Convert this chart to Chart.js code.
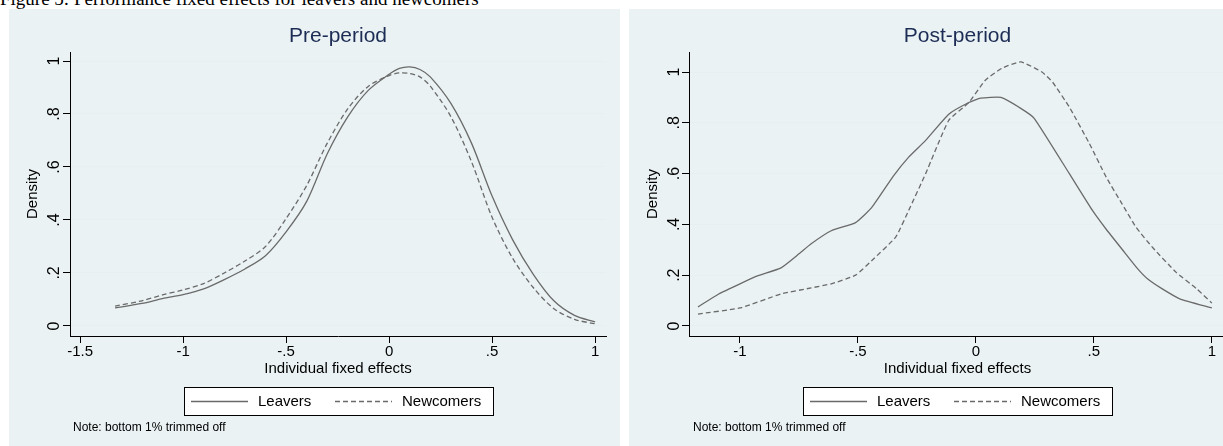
<!DOCTYPE html>
<html>
<head>
<meta charset="utf-8">
<script src="https://cdn.jsdelivr.net/npm/chart.js@4.4.1/dist/chart.umd.min.js"></script>
<style>
  html, body { margin: 0; padding: 0; background: #fff; }
  body { width: 1223px; height: 446px; overflow: hidden; position: relative; }
  .caption { position: absolute; left: 0; top: -11px; white-space: nowrap;
    font: 19px/20px "Liberation Serif", "Times New Roman", serif; color: #000; }
  .panel { position: absolute; top: 9px; width: 611px; height: 437px; background: #eaf2f3; }
  .panel canvas { display: block; }
</style>
</head>
<body>
<div class="caption">Figure 5: Performance fixed effects for leavers and newcomers</div>
<div class="panel" style="left:9px"><canvas id="pre" width="611" height="437"></canvas></div>
<div class="panel" style="left:629px"><canvas id="post" width="611" height="437"></canvas></div>
<script>
// pre-period densities
const preX = [-1.33, -1.2, -1.1, -1.0, -0.9, -0.8, -0.7, -0.6, -0.5, -0.4, -0.3, -0.2, -0.1,
  0.0, 0.05, 0.1, 0.15, 0.2, 0.3, 0.4, 0.5, 0.6, 0.7, 0.8, 0.9, 1.0];
const preLeavers = [0.068, 0.085, 0.103, 0.118, 0.14, 0.175, 0.215, 0.265, 0.355, 0.47, 0.65, 0.79, 0.89,
  0.95, 0.972, 0.978, 0.968, 0.94, 0.84, 0.69, 0.49, 0.325, 0.195, 0.095, 0.04, 0.015];
const preNewcomers = [0.075, 0.095, 0.117, 0.136, 0.16, 0.2, 0.245, 0.3, 0.405, 0.53, 0.69, 0.82, 0.905,
  0.945, 0.955, 0.953, 0.94, 0.905, 0.79, 0.62, 0.41, 0.255, 0.145, 0.065, 0.025, 0.008];

// post-period densities
const postLeaversX = [-1.178, -1.09, -1.0, -0.923, -0.826, -0.75, -0.698, -0.613, -0.51, -0.442, -0.35,
  -0.285, -0.213, -0.115, -0.03, 0.02, 0.106, 0.19, 0.247, 0.396, 0.494, 0.553, 0.63, 0.686, 0.727,
  0.79, 0.864, 1.0];
const postLeavers = [0.075, 0.126, 0.166, 0.198, 0.229, 0.284, 0.324, 0.375, 0.407, 0.466, 0.59,
  0.665, 0.731, 0.834, 0.88, 0.897, 0.9, 0.857, 0.818, 0.6, 0.455, 0.38, 0.29, 0.225, 0.186,
  0.146, 0.107, 0.071];
const postNewcomersX = [-1.178, -1.0, -0.826, -0.698, -0.613, -0.51, -0.442, -0.34, -0.285, -0.213,
  -0.115, -0.03, 0.04, 0.11, 0.19, 0.28, 0.325, 0.396, 0.48, 0.553, 0.62, 0.68, 0.75, 0.85, 0.936, 1.0];
const postNewcomers = [0.047, 0.071, 0.126, 0.15, 0.166, 0.2, 0.257, 0.35, 0.455, 0.6,
  0.81, 0.88, 0.968, 1.015, 1.04, 1.0, 0.96, 0.862, 0.72, 0.585, 0.48, 0.387, 0.308, 0.21, 0.146, 0.09];

const preXTicks = [-1.5, -1, -0.5, 0, 0.5, 1];
const postXTicks = [-1, -0.5, 0, 0.5, 1];
const yTicks = [0, 0.2, 0.4, 0.6, 0.8, 1];

const lineColor = "#6a6a6a";
const fmt = (v) => (v === 0 ? "0" : String(v).replace("0.", "."));
const pts = (xs, ys) => xs.map((x, i) => ({ x: x, y: ys[i] }));

Chart.defaults.font.family = '"Liberation Sans", Arial, sans-serif';
Chart.defaults.color = "#000";

const decor = {
  id: "decor",
  afterDraw(chart, args, opts) {
    const { ctx, chartArea: a, scales } = chart;
    const mid = (a.left + a.right) / 2;
    ctx.save();

    // panel title
    ctx.fillStyle = "#1c2c55";
    ctx.font = '21px "Liberation Sans", Arial, sans-serif';
    ctx.textAlign = "center";
    ctx.textBaseline = "alphabetic";
    ctx.fillText(opts.title, mid, 33);

    // rotated y tick labels
    ctx.fillStyle = "#000";
    ctx.font = '16px "Liberation Sans", Arial, sans-serif';
    scales.y.ticks.forEach((t) => {
      ctx.save();
      ctx.translate(50, scales.y.getPixelForValue(t.value));
      ctx.rotate(-Math.PI / 2);
      ctx.textAlign = "center";
      ctx.fillText(fmt(t.value), 0, 0);
      ctx.restore();
    });

    // y title
    ctx.font = '15px "Liberation Sans", Arial, sans-serif';
    ctx.save();
    ctx.translate(28, (a.top + a.bottom) / 2);
    ctx.rotate(-Math.PI / 2);
    ctx.textAlign = "center";
    ctx.fillText("Density", 0, 0);
    ctx.restore();

    // x title
    ctx.textAlign = "center";
    ctx.textBaseline = "middle";
    ctx.fillText("Individual fixed effects", mid, 360);

    // legend box
    const lw = 309, lh = 28;
    const lx = Math.round(mid - lw / 2), ly = 378;
    ctx.fillStyle = "#fff";
    ctx.fillRect(lx, ly, lw, lh);
    ctx.strokeStyle = "#000";
    ctx.lineWidth = 1;
    ctx.strokeRect(lx + 0.5, ly + 0.5, lw, lh);
    const keyX = [7, 151];
    chart.data.datasets.forEach((ds, i) => {
      ctx.beginPath();
      ctx.strokeStyle = ds.borderColor;
      ctx.lineWidth = ds.borderWidth;
      ctx.setLineDash(ds.borderDash || []);
      ctx.moveTo(lx + keyX[i], ly + 14.5);
      ctx.lineTo(lx + keyX[i] + 57, ly + 14.5);
      ctx.stroke();
      ctx.setLineDash([]);
      ctx.fillStyle = "#000";
      ctx.textAlign = "left";
      ctx.fillText(ds.label, lx + keyX[i] + 67, ly + 15);
    });

    // note
    ctx.font = '12px "Liberation Sans", Arial, sans-serif';
    ctx.textAlign = "left";
    ctx.fillText("Note: bottom 1% trimmed off", 64, 419);
    ctx.restore();
  },
};

function makeChart(id, title, leavers, newcomers, xTicks, xMin, xMax, yMin, yMax, yWidth, tension) {
  return new Chart(document.getElementById(id), {
    type: "line",
    data: {
      datasets: [
        { label: "Leavers", data: leavers, borderColor: lineColor, borderWidth: 1.3 },
        { label: "Newcomers", data: newcomers, borderColor: lineColor, borderWidth: 1.3, borderDash: [5, 3] },
      ],
    },
    options: {
      responsive: false,
      animation: false,
      events: [],
      elements: { point: { radius: 0 }, line: { tension: tension, fill: false } },
      layout: { padding: { top: 43, right: 14, left: 0, bottom: 0 } },
      plugins: { legend: { display: false }, tooltip: { enabled: false }, decor: { title: title } },
      scales: {
        x: {
          type: "linear",
          min: xMin,
          max: xMax,
          afterBuildTicks: (s) => { s.ticks = xTicks.map((v) => ({ value: v })); },
          afterFit: (s) => { s.height = 110; },
          ticks: { autoSkip: false, maxRotation: 0, padding: 0, font: { size: 15 }, callback: (v) => fmt(v) },
          grid: { drawOnChartArea: false, tickColor: "#000", tickLength: 7 },
          border: { color: "#000", width: 1 },
        },
        y: {
          type: "linear",
          min: yMin,
          max: yMax,
          afterBuildTicks: (s) => { s.ticks = yTicks.map((v) => ({ value: v })); },
          afterFit: (s) => { s.width = yWidth; },
          ticks: { display: false },
          grid: { color: "#e6eff1", lineWidth: 1, tickColor: "#000", tickLength: 7 },
          border: { color: "#000", width: 1 },
        },
      },
    },
    plugins: [decor],
  });
}

makeChart("pre", "Pre-period", pts(preX, preLeavers), pts(preX, preNewcomers),
  preXTicks, -1.549, 1.053, -0.038, 1.034, 61, 0.3);
makeChart("post", "Post-period", pts(postLeaversX, postLeavers), pts(postNewcomersX, postNewcomers),
  postXTicks, -1.216, 1.06, -0.0395, 1.079, 60, 0.15);
</script>
</body>
</html>
